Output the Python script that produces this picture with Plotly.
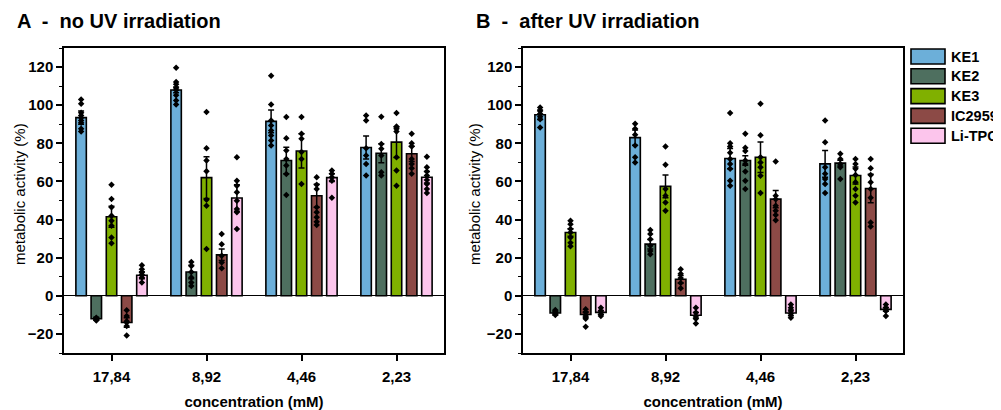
import plotly.graph_objects as go

# The page body adds an 8 px margin, so the figure is sized to the visible window
PAGE_OFF = 8
WIN_W, WIN_H = 1001, 410
W, H = WIN_W - PAGE_OFF, WIN_H - PAGE_OFF

concentrations = ["17,84", "8,92", "4,46", "2,23"]
series_names = ["KE1", "KE2", "KE3", "IC2959", "Li-TPO"]
series_colors = ["#6cafd9", "#4e6f5f", "#80b000", "#8c4a46", "#fcc5ec"]

panel_titles = ["A  -  no UV irradiation", "B  -  after UV irradiation"]
y_title = "metabolic activity (%)"
x_title = "concentration (mM)"

# ---------------- Panel A: no UV irradiation ----------------
A_KE1_mean = [93.5, 108.0, 91.5, 77.8]
A_KE1_sd = [3.5, 1.5, 6.0, 6.0]
A_KE1_pts = [[103, 100.7, 96, 94.6, 93.4, 92, 90.8, 87.6, 86.2],
             [119.6, 112.2, 111, 109, 107.8, 105.2, 102.5, 100.3],
             [115.4, 100.3, 92, 89.4, 86.7, 84.1, 81.5, 78.8],
             [94.6, 92, 77.4, 73.6, 69.2, 63.1]]

A_KE2_mean = [-12.0, 12.5, 71.0, 74.8]
A_KE2_sd = [0.8, 3.5, 7.0, 5.0]
A_KE2_pts = [[-11.5, -12, -12.5, -13, -12.2, -11.8],
             [17.8, 15.7, 12.5, 9.6, 7, 5.1],
             [93.8, 82.7, 76.2, 71.8, 68.3, 63.9, 52.9],
             [94, 79.7, 77.1, 73.6, 64.8, 63.1]]

A_KE3_mean = [41.5, 62.0, 76.0, 80.6]
A_KE3_sd = [5.5, 11.0, 9.0, 8.0]
A_KE3_pts = [[58.3, 50.8, 46.4, 42, 39.4, 36.8, 30.6, 27.6],
             [96.4, 77.4, 71, 65.3, 50.4, 47.3, 24.5],
             [93.8, 85, 82.4, 75.4, 71.8, 58.7],
             [95.9, 88.8, 87.6, 86.2, 72.7, 65.7, 57.8]]

A_IC_mean = [-14.0, 21.5, 52.5, 74.5]
A_IC_sd = [2.5, 3.0, 6.0, 4.0]
A_IC_pts = [[-7.6, -10.6, -13.3, -14, -15.9, -20.8],
            [32.4, 27.1, 21, 17.5, 14.5],
            [62.2, 58.2, 56, 46.4, 43.8, 41.2, 38.9, 37.1],
            [85, 80, 78.3, 71.8, 69.2, 66.9, 64]]

A_LI_mean = [10.8, 51.3, 62.0, 62.2]
A_LI_sd = [1.8, 7.0, 2.0, 3.0]
A_LI_pts = [[16, 13.9, 12.2, 11, 9.6, 7],
            [72.7, 60.4, 57.8, 54.3, 49.9, 45.5, 43.8, 35],
            [65.7, 64, 62.2, 60.4, 51.4],
            [73, 67.5, 65.2, 63.1, 60.8, 58.7, 56, 53.9]]

# ---------------- Panel B: after UV irradiation ----------------
B_KE1_mean = [95.0, 83.0, 72.0, 69.2]
B_KE1_sd = [2.5, 4.0, 5.3, 7.0]
B_KE1_pts = [[98.8, 97, 95.5, 94, 92.6, 88.3],
             [90.3, 87.6, 84.5, 78.8, 72.7, 70],
             [95.9, 80, 78.3, 75.1, 71.8, 69.2, 66.6, 60.4, 57.8],
             [92, 80.6, 67.5, 64, 61.3, 58.7, 53.9]]

B_KE2_mean = [-9.0, 27.1, 71.0, 69.6]
B_KE2_sd = [1.0, 2.5, 2.5, 1.5]
B_KE2_pts = [[-7.5, -8.5, -9, -9.5, -10],
             [34.5, 32.4, 29.7, 26.2, 23.5, 21.8],
             [85, 77.7, 76, 71, 69.2, 65.2, 60.4, 56],
             [74.5, 71.8, 69.2, 67.4, 61.3]]

B_KE3_mean = [33.2, 57.4, 72.7, 63.1]
B_KE3_sd = [2.0, 6.0, 8.0, 4.5]
B_KE3_pts = [[39.4, 37.6, 35, 33.2, 30.6, 27.9, 26],
             [78.3, 68.7, 56, 52.5, 49, 44.6],
             [100.8, 84.2, 72.7, 70, 67.4, 63, 53.9],
             [71.8, 69.2, 66.6, 63.4, 59.6, 56, 52.5, 49]]

B_IC_mean = [-9.8, 8.7, 50.7, 56.3]
B_IC_sd = [1.5, 2.0, 4.5, 7.5]
B_IC_pts = [[-7.1, -8.8, -10.6, -12, -16.2],
            [14, 11.6, 9.3, 6.7, 4],
            [70.4, 52.5, 50.7, 47.2, 44.6, 42.4, 39.7],
            [71.8, 66.9, 63.4, 59.6, 56, 51.5, 38.4, 36.3]]

B_LI_mean = [-8.7, -10.2, -9.0, -7.1]
B_LI_sd = [1.0, 1.5, 1.5, 1.0]
B_LI_pts = [[-6.3, -8, -9.8, -10.6],
            [-6.3, -8.8, -10.6, -12, -14.5],
            [-4.5, -6.3, -8, -9.4, -11.5],
            [-4.5, -6.3, -8, -10.6]]

panels = [
    ([A_KE1_mean, A_KE2_mean, A_KE3_mean, A_IC_mean, A_LI_mean],
     [A_KE1_sd, A_KE2_sd, A_KE3_sd, A_IC_sd, A_LI_sd],
     [A_KE1_pts, A_KE2_pts, A_KE3_pts, A_IC_pts, A_LI_pts]),
    ([B_KE1_mean, B_KE2_mean, B_KE3_mean, B_IC_mean, B_LI_mean],
     [B_KE1_sd, B_KE2_sd, B_KE3_sd, B_IC_sd, B_LI_sd],
     [B_KE1_pts, B_KE2_pts, B_KE3_pts, B_IC_pts, B_LI_pts]),
]

FONT = "Liberation Sans, Arial, sans-serif"
STEP = 0.16      # spacing between bars inside a group (axis units)
BAR_W = 0.11


def fx(px):
    """window pixel x -> paper fraction"""
    return (px - PAGE_OFF) / W


def fy(py):
    """window pixel y -> paper fraction"""
    return 1 - (py - PAGE_OFF) / H


fig = go.Figure()

for p, (means, sds, pts) in enumerate(panels):
    xa = "x" if p == 0 else "x2"
    ya = "y" if p == 0 else "y2"
    for k, name in enumerate(series_names):
        off = (k - 2) * STEP
        xs = [g + off for g in range(len(concentrations))]
        fig.add_trace(go.Bar(
            x=xs, y=means[k], width=BAR_W, name=name, showlegend=False,
            marker=dict(color=series_colors[k], line=dict(color="black", width=1.6)),
            error_y=dict(type="data", array=sds[k], color="black", thickness=1.5, width=3),
            xaxis=xa, yaxis=ya,
        ))
    for k, name in enumerate(series_names):
        off = (k - 2) * STEP
        px_, py_ = [], []
        for g, vals in enumerate(pts[k]):
            for v in vals:
                px_.append(g + off)
                py_.append(v)
        fig.add_trace(go.Scatter(
            x=px_, y=py_, mode="markers", showlegend=False, hoverinfo="skip",
            marker=dict(symbol="diamond", size=5, color="black"),
            xaxis=xa, yaxis=ya, cliponaxis=False,
        ))

x_domains = [[fx(64), fx(444)], [fx(523), fx(903)]]
y_domain = [fy(353), fy(48)]

tickfont = dict(family=FONT, size=15, color="black", weight="bold")

for p in range(2):
    sfx = "" if p == 0 else "2"
    fig.update_layout(**{
        "xaxis" + sfx: dict(
            domain=x_domains[p], range=[-0.5, 3.5], anchor="y" + sfx,
            tickvals=list(range(len(concentrations))), ticktext=concentrations,
            ticks="outside", ticklen=6, tickwidth=1.5, tickcolor="black",
            ticklabelstandoff=3,
            showline=True, linecolor="black", linewidth=1.5, mirror=True,
            showgrid=False, zeroline=False, tickfont=tickfont, automargin=False,
            title=dict(text=x_title, font=dict(family=FONT, size=15, color="black", weight="bold"),
                       standoff=14),
        ),
        "yaxis" + sfx: dict(
            domain=y_domain, range=[-30, 130], anchor="x" + sfx,
            tick0=0, dtick=20, ticks="outside", ticklen=6, tickwidth=1.5, tickcolor="black",
            minor=dict(dtick=10, ticks="outside", ticklen=3, tickwidth=1.2, tickcolor="black"),
            showline=True, linecolor="black", linewidth=1.5, mirror=True,
            showgrid=False, zeroline=True, zerolinecolor="black", zerolinewidth=1.2,
            tickfont=tickfont, automargin=False,
        ),
    })

annotations = []
for p, t in enumerate(panel_titles):
    annotations.append(dict(
        text=t, x=fx(15 if p == 0 else 474), y=fy(21), xref="paper", yref="paper",
        xanchor="left", yanchor="middle", showarrow=False,
        font=dict(family=FONT, size=20, color="black", weight="bold"),
    ))
    # y-axis titles
    annotations.append(dict(
        text=y_title, x=fx(19 if p == 0 else 474), y=fy(194), xref="paper", yref="paper",
        xanchor="center", yanchor="middle", textangle=-90, showarrow=False,
        font=dict(family=FONT, size=15, color="black"),
    ))

shapes = []
for k, name in enumerate(series_names):
    top = 49 + k * 19.8
    shapes.append(dict(
        type="rect", xref="paper", yref="paper",
        x0=fx(911), x1=fx(945), y0=fy(top + 15), y1=fy(top),
        fillcolor=series_colors[k], line=dict(color="black", width=1.6),
    ))
    annotations.append(dict(
        text=name, x=fx(949), y=fy(top + 7.5), xref="paper", yref="paper",
        xanchor="left", yanchor="middle", showarrow=False,
        font=dict(family=FONT, size=14.5, color="black", weight="bold"),
    ))

fig.update_layout(
    width=W, height=H, autosize=False,
    margin=dict(l=0, r=0, t=0, b=0),
    paper_bgcolor="white", plot_bgcolor="white",
    barmode="overlay",
    annotations=annotations, shapes=shapes,
    font=dict(family=FONT, color="black"),
)

fig.write_html("out.html")
